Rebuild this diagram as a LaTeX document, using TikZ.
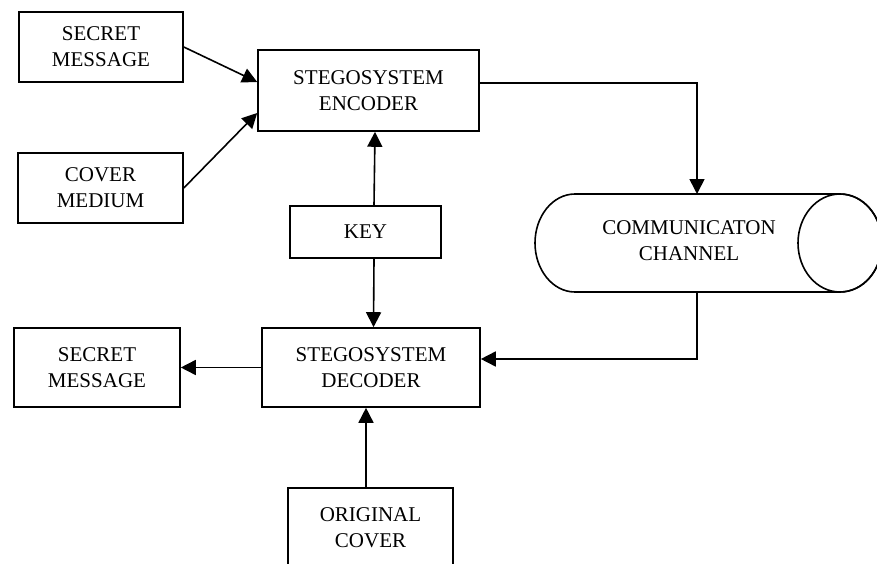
\documentclass[tikz,border=0pt]{standalone}
\usepackage{fontspec}
\setmainfont{Liberation Serif}
\usetikzlibrary{arrows.meta}
\tikzset{
  box/.style={draw,line width=1.6pt,align=center,inner sep=0pt,font=\fontsize{21}{26}\selectfont},
  arr/.style={line width=1.6pt,-{Triangle[length=15pt,width=15pt]}}
}
\begin{document}
\begin{tikzpicture}[x=1pt,y=-1pt]
\useasboundingbox (0,0) rectangle (877,564);
\node[box,minimum width=164pt,minimum height=70pt] (msgin) at (101,47) {SECRET\\MESSAGE};
\node[box,minimum width=165pt,minimum height=70pt] (cover) at (100.5,188) {COVER\\MEDIUM};
\node[box,minimum width=221pt,minimum height=81pt] (enc) at (368.5,90.5) {STEGOSYSTEM\\ENCODER};
\node[box,minimum width=151pt,minimum height=52pt] (key) at (365.5,232) {KEY};
\node[box,minimum width=218pt,minimum height=79pt] (dec) at (371,367.5) {STEGOSYSTEM\\DECODER};
\node[box,minimum width=166pt,minimum height=79pt] (msgout) at (97,367.5) {SECRET\\MESSAGE};
\node[box,minimum width=165pt,minimum height=79pt] (orig) at (370.5,527.5) {ORIGINAL\\COVER};
\draw[line width=1.6pt] (575,194) -- (840,194) arc[start angle=-90,end angle=90,x radius=42,y radius=49]
  -- (575,292) arc[start angle=90,end angle=270,x radius=40,y radius=49] -- cycle;
\draw[line width=1.6pt] (840,243) ellipse[x radius=42,y radius=49];
\node[box,draw=none] (chan) at (689,241) {COMMUNICATON\\CHANNEL};
\coordinate (chantop) at (697,194);
\coordinate (chanbot) at (697,292);
\draw[arr] (msgin.east) -- ([yshift=8.5pt]enc.west);
\draw[arr] (cover.east) -- ([yshift=-22.5pt]enc.west);
\draw[arr] ([xshift=8.5pt]key.north) -- ([xshift=6.5pt]enc.south);
\draw[arr] ([xshift=8.5pt]key.south) -- ([xshift=2.5pt]dec.north);
\draw[arr] ([yshift=7.5pt]enc.east) -| (chantop);
\draw[arr] (chanbot) |- ([yshift=8.5pt]dec.east);
\draw[arr] (dec.west) -- (msgout.east);
\draw[arr] ([xshift=-4.5pt]orig.north) -- ([xshift=-5pt]dec.south);
\end{tikzpicture}
\end{document}
